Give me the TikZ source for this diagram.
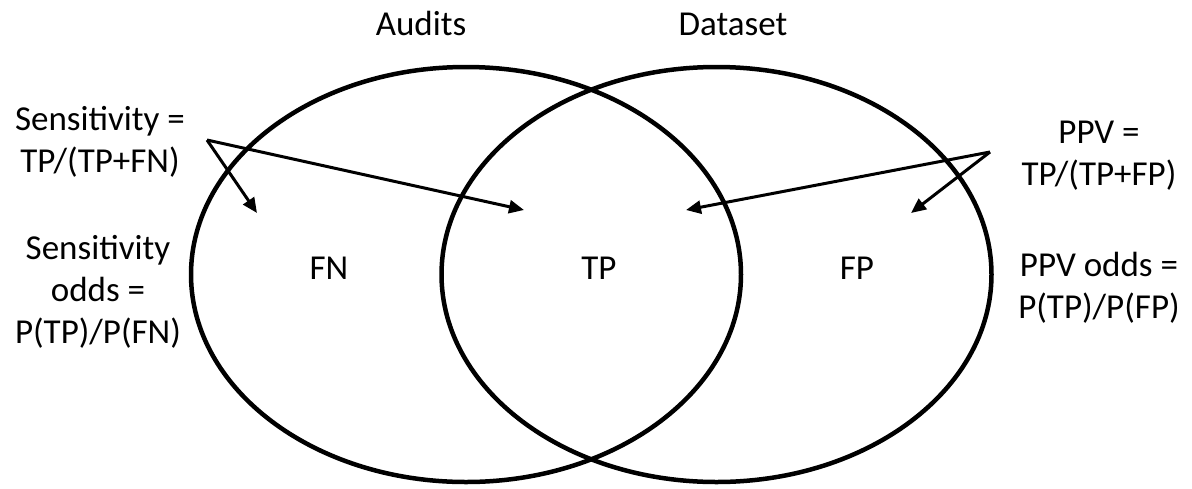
\documentclass[tikz,border=0pt]{standalone}
\usepackage{fontspec}
\setmainfont{Carlito}
\usetikzlibrary{arrows.meta}
\begin{document}
\begin{tikzpicture}[x=1pt,y=-1pt,
  lbl/.style={font=\fontsize{35}{42}\selectfont, inner sep=0pt, anchor=base, align=center},
  setline/.style={line width=4.5pt},
  pointer/.style={line width=3pt, -{Triangle[length=15pt,width=13pt]}}]
\useasboundingbox (0,0) rectangle (1192,488);
\draw[setline] (466,274.5) ellipse [x radius=275pt, y radius=207.5pt];
\draw[setline] (716.5,274.5) ellipse [x radius=275pt, y radius=207.5pt];
\node[lbl] (audits) at (421,35) {Audits};
\node[lbl] (dataset) at (733,35) {Dataset};
\node[lbl] (fn) at (329,279) {FN};
\node[lbl] (tp) at (599,279) {TP};
\node[lbl] (fp) at (857,279) {FP};
\node[lbl] (sens) at (100,172) {Sensitivity =\\TP/(TP+FN)};
\node[lbl] (sensodds) at (98,343) {Sensitivity\\odds =\\P(TP)/P(FN)};
\node[lbl] (ppv) at (1099,185) {PPV =\\TP/(TP+FP)};
\node[lbl] (ppvodds) at (1099,318) {PPV odds =\\P(TP)/P(FP)};
\coordinate (ls) at (207,140);
\coordinate (ltp) at (524,210);
\coordinate (lfn) at (257,213);
\coordinate (rs) at (990,152);
\coordinate (rtp) at (686,210);
\coordinate (rfp) at (911,213);
\draw[pointer] (ls) -- (ltp);
\draw[pointer] (ls) -- (lfn);
\draw[pointer] (rs) -- (rtp);
\draw[pointer] (rs) -- (rfp);
\end{tikzpicture}
\end{document}
